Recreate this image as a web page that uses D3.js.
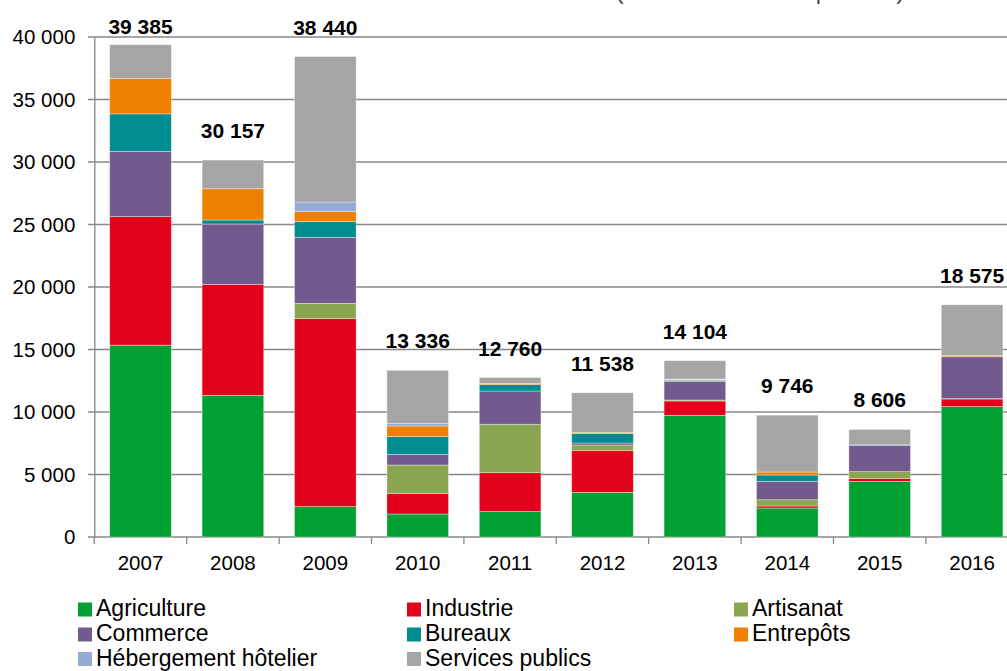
<!DOCTYPE html>
<html lang="fr">
<head>
<meta charset="UTF-8">
<title>Surfaces autorisées</title>
<script src="https://d3js.org/d3.v7.min.js"></script>
<style>
    body { margin: 0; background: #fff; }
    svg { display: block; font-family: "Liberation Sans", Arial, sans-serif; }
</style>
</head>
<body>
<div id="chart"></div>
<script>
// years on the x axis
var years = ["2007", "2008", "2009", "2010", "2011", "2012", "2013", "2014", "2015", "2016"];

// one array per category, in stacking order (bottom to top)
var agriculture  = [15350, 11330,  2430, 1840, 2030, 3570, 9730, 2320, 4450, 10430];
var industrie    = [10280,  8880, 15040, 1650, 3120, 3360, 1150,  160,  240,   610];
var artisanat    = [    0,     0,  1220, 2270, 3870,  430,   80,  500,  540,    30];
var commerce     = [ 5220,  4830,  5280,  850, 2660,  160, 1470, 1470, 2110,  3350];
var bureaux      = [ 3000,   320,  1260, 1420,  510,  750,  100,  510,   30,     0];
var entrepots    = [ 2830,  2500,   800,  850,  100,  100,   60,  240,    0,   110];
var hebergement  = [    0,     0,   770,  210,    0,    0,   50,    0,    0,     0];
var services     = [ 2705,  2297, 11640, 4246,  470, 3168, 1464, 4546, 1236,  4045];

// totals printed over the bars
var totals = [39385, 30157, 38440, 13336, 12760, 11538, 14104, 9746, 8606, 18575];
var totalLabels = ["39 385", "30 157", "38 440", "13 336", "12 760", "11 538", "14 104", "9 746", "8 606", "18 575"];

var yTicks = [0, 5000, 10000, 15000, 20000, 25000, 30000, 35000, 40000];

var seriesNames = ["Agriculture", "Industrie", "Artisanat", "Commerce", "Bureaux", "Entrepôts", "Hébergement hôtelier", "Services publics"];
var seriesValues = [agriculture, industrie, artisanat, commerce, bureaux, entrepots, hebergement, services];
var seriesColors = ["#00a032", "#e2001a", "#8ba650", "#725a8e", "#008c91", "#ee7f00", "#95abd4", "#a5a5a5"];

var width = 1007, height = 671;

var svg = d3.select("#chart").append("svg")
    .attr("width", width)
    .attr("height", height);

// subtitle, mostly cut off by the top edge in the original
svg.append("text")
    .attr("x", 760)
    .attr("y", 0)
    .attr("text-anchor", "middle")
    .attr("font-size", 21)
    .attr("fill", "#333")
    .text("(en m² de surface de plancher)");

// scales
var x = d3.scaleBand().domain(years).range([94.3, 1018.3]).paddingInner(0.333).paddingOuter(0.1667);
var xEdges = d3.scaleBand().domain(years).range([94.3, 1018.3]);
var y = d3.scaleLinear().domain([0, 40000]).range([537, 37]);

// gridlines
svg.append("g")
    .selectAll("line")
    .data(yTicks)
    .enter()
    .append("line")
    .attr("x1", 88)
    .attr("x2", width)
    .attr("y1", d => y(d))
    .attr("y2", d => y(d))
    .attr("stroke", "#888")
    .attr("stroke-width", 1.3);

// y axis
var yAxis = svg.append("g")
    .attr("transform", "translate(94.3,0)")
    .call(d3.axisLeft(y).tickValues(yTicks).tickSize(0).tickPadding(19)
        .tickFormat(d => d3.format(",")(d).replace(",", " ")));
yAxis.select(".domain").attr("stroke", "#888").attr("stroke-width", 1.3);
yAxis.selectAll("text").attr("font-size", 20.5).attr("fill", "#000").attr("font-family", "Liberation Sans, Arial, sans-serif");

// x axis: ticks on band edges
svg.append("g")
    .selectAll("line")
    .data(years)
    .enter()
    .append("line")
    .attr("x1", d => xEdges(d))
    .attr("x2", d => xEdges(d))
    .attr("y1", 537)
    .attr("y2", 544)
    .attr("stroke", "#888")
    .attr("stroke-width", 1.3);

svg.append("g")
    .selectAll("text")
    .data(years)
    .enter()
    .append("text")
    .attr("x", d => x(d) + x.bandwidth() / 2)
    .attr("y", 569.5)
    .attr("text-anchor", "middle")
    .attr("font-size", 20.5)
    .text(d => d);

// stacked bars
var table = years.map(function (yr, i) {
    var row = { year: yr };
    seriesNames.forEach(function (n, k) { row[n] = seriesValues[k][i]; });
    return row;
});
var stacked = d3.stack().keys(seriesNames)(table);

svg.append("g")
    .selectAll("g")
    .data(stacked)
    .enter()
    .append("g")
    .attr("fill", (d, k) => seriesColors[k])
    .selectAll("rect")
    .data(d => d.filter(p => p[1] > p[0]))
    .enter()
    .append("rect")
    .attr("x", d => x(d.data.year))
    .attr("y", d => y(d[1]))
    .attr("width", x.bandwidth())
    .attr("height", d => y(d[0]) - y(d[1]))
    .attr("stroke", "rgba(255,255,255,0.45)")
    .attr("stroke-width", 0.8);

// totals
svg.append("g")
    .selectAll("text")
    .data(years)
    .enter()
    .append("text")
    .attr("x", d => x(d) + x.bandwidth() / 2)
    .attr("y", (d, i) => Math.max(y(totals[i]) - 22, 33.5))
    .attr("text-anchor", "middle")
    .attr("font-size", 21)
    .attr("font-weight", "bold")
    .text((d, i) => totalLabels[i]);

// legend
var legendCols = [78, 407, 734];
var legendRows = [616, 641, 665.5];
var legend = svg.append("g")
    .selectAll("g")
    .data(seriesNames)
    .enter()
    .append("g")
    .attr("transform", (d, k) => "translate(" + legendCols[k % 3] + "," + legendRows[Math.floor(k / 3)] + ")");

legend.append("rect")
    .attr("x", 0)
    .attr("y", -13.5)
    .attr("width", 14)
    .attr("height", 14)
    .attr("fill", (d, k) => seriesColors[k]);

legend.append("text")
    .attr("x", 18)
    .attr("y", 0)
    .attr("font-size", 23)
    .text(d => d);
</script>
</body>
</html>
